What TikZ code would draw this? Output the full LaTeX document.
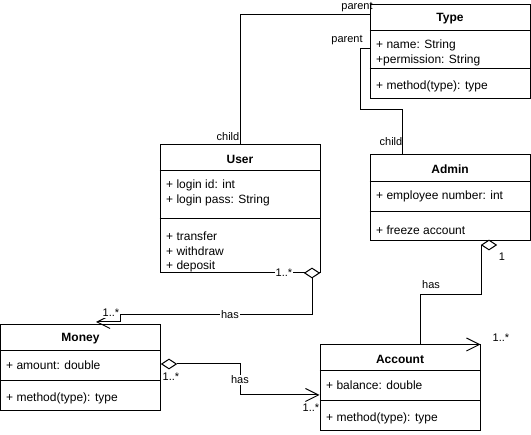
\documentclass[tikz,border=0pt]{standalone}
\usepackage{fontspec}
\setmainfont{Liberation Sans}
\usepackage{tikz}
\usetikzlibrary{positioning,arrows.meta,shapes.geometric}
\tikzstyle{cls} = [draw, line width=1pt, minimum width=160pt, inner sep=0pt]
\tikzstyle{ctitle} = [font=\bfseries\fontsize{12}{14}\selectfont]
\tikzstyle{member} = [anchor=west, align=left, inner sep=0pt, font=\fontsize{12}{14.5}\selectfont]
\tikzstyle{lbl} = [inner sep=1pt, font=\fontsize{11}{13}\selectfont]
\tikzstyle{agg} = [draw, diamond, fill=white, inner sep=0pt, minimum width=15pt, minimum height=10pt, line width=1pt]
\tikzstyle{assoc} = [line width=1pt, -{Straight Barb[length=13pt,width=13pt]}]

\begin{document}
\begin{tikzpicture}[x=1pt, y=-1pt]
			\useasboundingbox (0,0) rectangle (531,435);
			% classes
			\node[cls, minimum height=94pt] (type) at (450,52) {};
			\node[ctitle] at (450,19) {Type};
			\draw[line width=1pt] (type.west |- 0,31) -- (type.east |- 0,31);
			\draw[line width=1pt] (type.west |- 0,69) -- (type.east |- 0,69);
			\node[member] at (376,53) {+ name: String\\+permission: String};
			\node[member] at (376,86.5) {+ method(type): type};

			\node[cls, minimum height=128pt] (user) at (240,209) {};
			\node[ctitle] at (240,159) {User};
			\draw[line width=1pt] (user.west |- 0,171) -- (user.east |- 0,171);
			\draw[line width=1pt] (user.west |- 0,219) -- (user.east |- 0,219);
			\node[member] at (166,193) {+ login id: int\\+ login pass: String};
			\node[member] at (166,252) {+ transfer\\+ withdraw\\+ deposit};

			\node[cls, minimum height=86pt] (admin) at (450,198) {};
			\node[ctitle] at (450,169.5) {Admin};
			\draw[line width=1pt] (admin.west |- 0,182) -- (admin.east |- 0,182);
			\draw[line width=1pt] (admin.west |- 0,212) -- (admin.east |- 0,212);
			\node[member] at (376,196.5) {+ employee number: int};
			\node[member] at (376,230) {+ freeze account};

			\node[cls, minimum height=86pt] (money) at (80.5,368) {};
			\node[ctitle] at (80.5,339) {Money};
			\draw[line width=1pt] (money.west |- 0,351) -- (money.east |- 0,351);
			\draw[line width=1pt] (money.west |- 0,381) -- (money.east |- 0,381);
			\node[member] at (6,365.5) {+ amount: double};
			\node[member] at (6,398.5) {+ method(type): type};

			\node[cls, minimum height=86pt] (account) at (400,388) {};
			\node[ctitle] at (400,359) {Account};
			\draw[line width=1pt] (account.west |- 0,371) -- (account.east |- 0,371);
			\draw[line width=1pt] (account.west |- 0,401) -- (account.east |- 0,401);
			\node[member] at (326,385.5) {+ balance: double};
			\node[member] at (326,418.5) {+ method(type): type};

			% inheritance
			\draw[line width=1pt] (user.north) |- (type.west |- 0,15);
			\node[lbl] at (357,7) {parent};
			\node[lbl] at (228,137) {child};
			\draw[line width=1pt] (type.west |- 0,49) -| (360,110) -| (admin.north -| 402,0);
			\node[lbl] at (347,40) {parent};
			\node[lbl] at (391,142) {child};

			% user has money
			\coordinate (moneyIn) at (96,322);
			\node[agg] (aggUser) at (312,273) {};
			\draw[assoc] (aggUser.south) |- (120,315) |- (moneyIn);
			\node[lbl, fill=white] at (284,273) {1..*};
			\node[lbl, fill=white] at (230,315) {has};
			\node[lbl, fill=white] at (111,313) {1..*};

			% money has account
			\node[agg] (aggMoney) at (169,364) {};
			\draw[assoc] (aggMoney.east) -| (240,395) -- (account.west |- 0,395);
			\node[lbl, fill=white] at (240,380) {has};
			\node[lbl] at (171,377) {1..*};
			\node[lbl] at (311,408) {1..*};

			% admin has account
			\node[agg] (aggAdmin) at (489,245) {};
			\draw[line width=1pt] (aggAdmin.west) |- (420,295) -- (account.north -| 420,0);
			\draw[assoc] ([xshift=-1pt]account.north east) -- (account.north east);
			\node[lbl] at (502,257) {1};
			\node[lbl] at (431,285) {has};
			\node[lbl] at (501,338) {1..*};
		\end{tikzpicture}
\end{document}
